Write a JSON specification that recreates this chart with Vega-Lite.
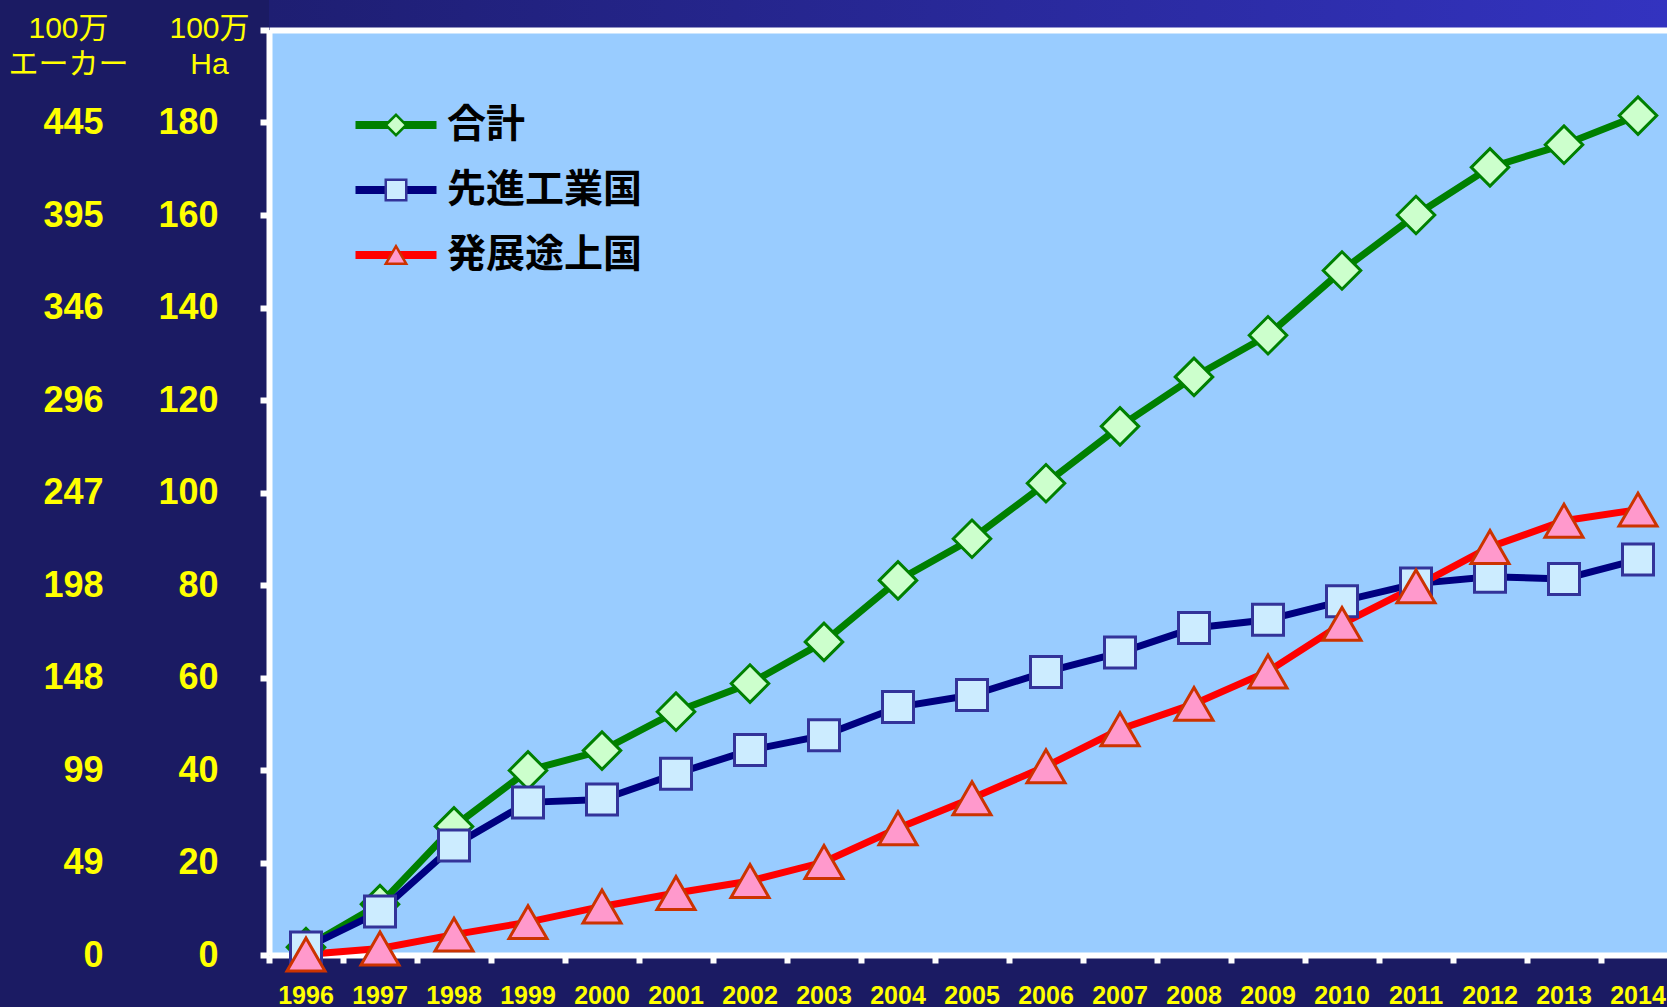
{
  "$schema": "https://vega.github.io/schema/vega-lite/v6.json",
  "width": 1398,
  "height": 925,
  "autosize": {"type": "none"},
  "padding": {"left": 269, "top": 30, "right": 0, "bottom": 52},
  "background": "#1B1B63",
  "data": {
    "values": [
      {"year": "1996", "series": "合計", "value": 1.7},
      {"year": "1997", "series": "合計", "value": 11.0},
      {"year": "1998", "series": "合計", "value": 27.8},
      {"year": "1999", "series": "合計", "value": 39.9},
      {"year": "2000", "series": "合計", "value": 44.2},
      {"year": "2001", "series": "合計", "value": 52.6},
      {"year": "2002", "series": "合計", "value": 58.7},
      {"year": "2003", "series": "合計", "value": 67.7},
      {"year": "2004", "series": "合計", "value": 81.0},
      {"year": "2005", "series": "合計", "value": 90.0},
      {"year": "2006", "series": "合計", "value": 102.0},
      {"year": "2007", "series": "合計", "value": 114.3},
      {"year": "2008", "series": "合計", "value": 125.0},
      {"year": "2009", "series": "合計", "value": 134.0},
      {"year": "2010", "series": "合計", "value": 148.0},
      {"year": "2011", "series": "合計", "value": 160.0},
      {"year": "2012", "series": "合計", "value": 170.3},
      {"year": "2013", "series": "合計", "value": 175.2},
      {"year": "2014", "series": "合計", "value": 181.5},
      {"year": "1996", "series": "先進工業国", "value": 1.6},
      {"year": "1997", "series": "先進工業国", "value": 9.4},
      {"year": "1998", "series": "先進工業国", "value": 23.7},
      {"year": "1999", "series": "先進工業国", "value": 33.0},
      {"year": "2000", "series": "先進工業国", "value": 33.6},
      {"year": "2001", "series": "先進工業国", "value": 39.2},
      {"year": "2002", "series": "先進工業国", "value": 44.3},
      {"year": "2003", "series": "先進工業国", "value": 47.5},
      {"year": "2004", "series": "先進工業国", "value": 53.6},
      {"year": "2005", "series": "先進工業国", "value": 56.2},
      {"year": "2006", "series": "先進工業国", "value": 61.2},
      {"year": "2007", "series": "先進工業国", "value": 65.4},
      {"year": "2008", "series": "先進工業国", "value": 70.7},
      {"year": "2009", "series": "先進工業国", "value": 72.5},
      {"year": "2010", "series": "先進工業国", "value": 76.5},
      {"year": "2011", "series": "先進工業国", "value": 80.3},
      {"year": "2012", "series": "先進工業国", "value": 81.8},
      {"year": "2013", "series": "先進工業国", "value": 81.3},
      {"year": "2014", "series": "先進工業国", "value": 85.5},
      {"year": "1996", "series": "発展途上国", "value": 0.1},
      {"year": "1997", "series": "発展途上国", "value": 1.4},
      {"year": "1998", "series": "発展途上国", "value": 4.4},
      {"year": "1999", "series": "発展途上国", "value": 7.1},
      {"year": "2000", "series": "発展途上国", "value": 10.5},
      {"year": "2001", "series": "発展途上国", "value": 13.4},
      {"year": "2002", "series": "発展途上国", "value": 16.0},
      {"year": "2003", "series": "発展途上国", "value": 20.1},
      {"year": "2004", "series": "発展途上国", "value": 27.4},
      {"year": "2005", "series": "発展途上国", "value": 33.9},
      {"year": "2006", "series": "発展途上国", "value": 40.8},
      {"year": "2007", "series": "発展途上国", "value": 48.8},
      {"year": "2008", "series": "発展途上国", "value": 54.3},
      {"year": "2009", "series": "発展途上国", "value": 61.3},
      {"year": "2010", "series": "発展途上国", "value": 71.6},
      {"year": "2011", "series": "発展途上国", "value": 79.7},
      {"year": "2012", "series": "発展途上国", "value": 88.2},
      {"year": "2013", "series": "発展途上国", "value": 93.9},
      {"year": "2014", "series": "発展途上国", "value": 96.3}
    ]
  },
  "layer": [
    {
      "data": {"values": [{"band": "top"}]},
      "mark": {
        "type": "rect",
        "fill": {
          "gradient": "linear",
          "x1": 0, "y1": 0, "x2": 1, "y2": 0,
          "stops": [
            {"offset": 0, "color": "#1E1E72"},
            {"offset": 1, "color": "#3333C0"}
          ]
        }
      },
      "encoding": {
        "y": {"datum": 200, "type": "quantitative", "scale": {"domain": [0, 200], "nice": false}, "axis": null},
        "y2": {"datum": 206.5}
      }
    },
    {
      "mark": {"type": "line", "strokeWidth": 7},
      "encoding": {
        "x": {
          "field": "year", "type": "ordinal",
          "scale": {"type": "band", "range": [0, 1406], "paddingInner": 0, "paddingOuter": 0},
          "axis": {"orient": "top", "labels": false, "ticks": false, "domain": true, "domainColor": "white", "domainWidth": 6, "title": null, "grid": false, "zindex": 1}
        },
        "y": {
          "field": "value", "type": "quantitative",
          "scale": {"domain": [0, 200], "nice": false},
          "axis": {
            "orient": "left",
            "values": [0, 20, 40, 60, 80, 100, 120, 140, 160, 180, 200],
            "grid": false,
            "domainColor": "white", "domainWidth": 6,
            "tickColor": "white", "tickWidth": 6, "tickSize": 9,
            "labelColor": "#FFFF00", "labelFont": "Liberation Sans", "labelFontWeight": "bold", "labelFontSize": 36,
            "labelPadding": 42, "labelOverlap": false,
            "labelExpr": "datum.value >= 200 ? '' : datum.label",
            "title": ["100万", "Ha"],
            "titleColor": "#FFFF00", "titleFont": "Liberation Sans, Noto Sans CJK JP", "titleFontSize": 30, "titleFontWeight": "normal",
            "titleAngle": 0, "titleAlign": "center", "titleBaseline": "alphabetic",
            "titleX": -60, "titleY": 7, "titleLineHeight": 36
          }
        },
        "color": {
          "field": "series", "type": "nominal",
          "sort": ["合計", "先進工業国", "発展途上国"],
          "scale": {"range": ["#008000", "#000080", "#FF0000"]},
          "legend": {
            "orient": "none", "legendX": 107.5, "legendY": 75.5, "title": null, "padding": 0,
            "symbolType": "M-4.5,0L4.5,0", "symbolSize": 324, "symbolStrokeWidth": 8,
            "labelFont": "Noto Sans CJK JP", "labelFontSize": 39, "labelFontWeight": "bold", "labelColor": "black",
            "labelOffset": 31.5, "rowPadding": 25, "labelLimit": 400
          }
        }
      }
    },
    {
      "mark": {"type": "point", "filled": true, "strokeWidth": 3, "opacity": 1},
      "encoding": {
        "x": {
          "field": "year", "type": "ordinal",
          "scale": {"type": "band", "range": [0, 1406], "paddingInner": 0, "paddingOuter": 0},
          "axis": {
            "orient": "bottom", "bandPosition": 0, "grid": false,
            "domainColor": "white", "domainWidth": 6,
            "tickColor": "white", "tickWidth": 6, "tickSize": 8,
            "labelColor": "#FFFF00", "labelFont": "Liberation Sans", "labelFontWeight": "bold", "labelFontSize": 25,
            "labelAngle": 0, "labelPadding": 20, "labelBaseline": "top", "labelOverlap": false,
            "title": null
          }
        },
        "y": {
          "field": "value", "type": "quantitative",
          "scale": {"domain": [0, 200], "nice": false},
          "axis": {
            "orient": "left",
            "values": [0, 20, 40, 60, 80, 100, 120, 140, 160, 180, 200],
            "grid": false, "domain": false, "ticks": false, "tickSize": 0,
            "labelColor": "#FFFF00", "labelFont": "Liberation Sans", "labelFontWeight": "bold", "labelFontSize": 36,
            "labelPadding": 166, "labelOverlap": false,
            "labelExpr": "['0','49','99','148','198','247','296','346','395','445',''][round(datum.value/20)]",
            "title": ["100万", "エーカー"],
            "titleColor": "#FFFF00", "titleFont": "Liberation Sans, Noto Sans CJK JP", "titleFontSize": 30, "titleFontWeight": "normal",
            "titleAngle": 0, "titleAlign": "center", "titleBaseline": "alphabetic",
            "titleX": -201, "titleY": 7, "titleLineHeight": 36
          }
        },
        "shape": {
          "field": "series", "type": "nominal",
          "scale": {"domain": ["合計", "先進工業国", "発展途上国"], "range": ["diamond", "square", "triangle-up"]},
          "legend": {
            "orient": "none", "legendX": 107.5, "legendY": 75.5, "title": null, "padding": 0,
            "symbolSize": 420, "symbolStrokeWidth": 2.5, "symbolOpacity": 1, "symbolFillColor": "#FFFFFF",
            "labelFontSize": 39, "labelExpr": "''",
            "labelOffset": 31.5, "rowPadding": 25
          }
        },
        "fill": {
          "field": "series", "type": "nominal",
          "scale": {"domain": ["合計", "先進工業国", "発展途上国"], "range": ["#CCFFCC", "#CCECFF", "#FF99CC"]},
          "legend": {
            "orient": "none", "legendX": 107.5, "legendY": 75.5, "title": null, "padding": 0,
            "symbolSize": 420, "symbolStrokeWidth": 2.5, "symbolOpacity": 1, "symbolFillColor": "#FFFFFF",
            "labelFontSize": 39, "labelExpr": "''",
            "labelOffset": 31.5, "rowPadding": 25
          }
        },
        "stroke": {
          "field": "series", "type": "nominal",
          "scale": {"domain": ["合計", "先進工業国", "発展途上国"], "range": ["#008000", "#333399", "#CC3300"]},
          "legend": {
            "orient": "none", "legendX": 107.5, "legendY": 75.5, "title": null, "padding": 0,
            "symbolSize": 420, "symbolStrokeWidth": 2.5, "symbolOpacity": 1, "symbolFillColor": "#FFFFFF",
            "labelFontSize": 39, "labelExpr": "''",
            "labelOffset": 31.5, "rowPadding": 25
          }
        },
        "size": {
          "field": "series", "type": "nominal",
          "scale": {"type": "ordinal", "domain": ["発展途上国", "先進工業国", "合計"], "range": [1444, 961, 1406]},
          "legend": null
        }
      }
    }
  ],
  "resolve": {
    "axis": {"x": "independent", "y": "independent"}
  },
  "config": {
    "font": "Liberation Sans",
    "view": {"fill": "#99CCFF", "stroke": null}
  }
}
